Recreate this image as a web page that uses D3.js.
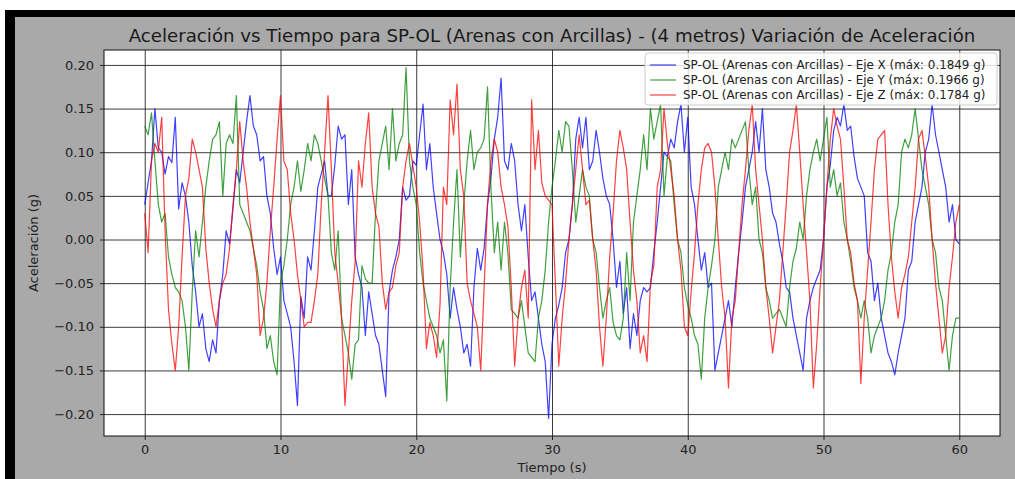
<!DOCTYPE html>
<html lang="es">
<head>
  <meta charset="UTF-8">
  <title>Aceleración vs Tiempo SP-OL</title>
  <script src="https://cdn.jsdelivr.net/npm/d3@7"></script>
  <style>
  body { margin: 0; background: #fff; }
  .axis text { font-family: 'DejaVu Sans', sans-serif; font-size: 13px; fill: #222; }
  .axis path { stroke: #111; }
  .axis line { stroke: #222; }
  .grid line { stroke: #1a1a1a; stroke-opacity: 0.85; }
  .grid path { display: none; }
  .titulo { font-family: 'DejaVu Sans', sans-serif; font-size: 18.2px; fill: #1a1a1a; }
  .etiqueta { font-family: 'DejaVu Sans', sans-serif; font-size: 13px; fill: #222; }
  .leyenda { font-family: 'DejaVu Sans', sans-serif; font-size: 11.9px; fill: #222; }
  </style>
</head>
<body>
<div id="grafico"></div>
<script>
// datos, muestreo cada 0.25 s
var paso = 0.25;

var ejeX = [
  0.040,0.065,0.090,0.150,0.105,0.100,0.075,0.095,0.088,0.140,0.035,0.065,0.050,0.020,-0.030,-0.060,-0.100,-0.085,-0.125,-0.140,
  -0.115,-0.130,-0.070,-0.040,0.010,-0.005,0.035,0.080,0.065,0.100,0.135,0.165,0.130,0.120,0.090,0.095,0.050,0.030,-0.010,-0.040,
  -0.020,-0.070,-0.085,-0.100,-0.140,-0.190,-0.065,-0.090,-0.020,-0.035,0.010,0.060,0.075,0.090,0.050,0.050,0.085,0.130,0.115,0.120,
  0.040,0.080,-0.020,-0.040,-0.055,-0.110,-0.060,-0.085,-0.110,-0.120,-0.150,-0.180,-0.060,-0.035,-0.020,0.000,0.060,0.045,0.050,0.090,
  0.085,0.120,0.155,0.080,0.110,0.060,0.030,0.000,-0.015,-0.040,-0.090,-0.055,-0.080,-0.100,-0.130,-0.120,-0.145,-0.055,-0.010,-0.035,
  -0.010,0.040,0.070,0.115,0.140,0.185,0.090,0.080,0.110,0.090,0.040,0.010,0.040,-0.020,-0.070,-0.060,-0.090,-0.120,-0.140,-0.205,
  -0.120,-0.090,-0.075,-0.055,-0.015,0.000,0.040,0.115,0.140,0.105,0.140,0.080,0.090,0.125,0.100,0.070,0.050,0.040,0.000,-0.055,
  -0.025,-0.085,-0.055,-0.125,-0.085,-0.110,-0.070,-0.055,-0.060,-0.055,-0.015,0.020,0.060,0.100,0.095,0.115,0.105,0.135,0.155,0.100,
  0.140,0.060,0.040,0.000,-0.035,-0.015,-0.055,-0.050,-0.150,-0.130,-0.110,-0.090,-0.070,-0.100,-0.055,-0.015,0.020,0.060,0.080,0.100,
  0.135,0.100,0.150,0.080,0.060,0.030,0.020,-0.005,-0.025,-0.055,-0.060,-0.090,-0.110,-0.130,-0.150,-0.090,-0.070,-0.055,-0.045,-0.035,
  0.000,0.060,0.085,0.125,0.140,0.130,0.155,0.125,0.130,0.095,0.070,0.060,0.050,-0.015,-0.025,-0.070,-0.050,-0.090,-0.110,-0.130,
  -0.140,-0.155,-0.130,-0.110,-0.090,-0.035,-0.025,0.020,0.040,0.060,0.100,0.115,0.155,0.120,0.100,0.080,0.060,0.020,0.040,0.000,
  -0.005
];

var ejeY = [
  0.130,0.120,0.145,0.090,0.040,0.020,0.030,-0.020,-0.040,-0.055,-0.060,-0.070,-0.100,-0.150,-0.060,0.010,-0.020,0.020,0.060,0.090,
  0.115,0.120,0.135,0.050,0.110,0.120,0.110,0.165,0.040,0.030,0.020,0.010,-0.010,-0.030,-0.060,-0.080,-0.125,-0.110,-0.140,-0.155,
  -0.050,-0.030,0.000,0.040,0.060,0.090,0.055,0.080,0.110,0.090,0.120,0.110,0.090,0.070,0.050,-0.015,-0.035,0.010,-0.090,-0.110,
  -0.130,-0.160,-0.120,-0.115,-0.030,-0.045,-0.050,-0.050,0.030,0.090,0.110,0.130,0.080,0.150,0.090,0.110,0.120,0.197,0.090,0.060,
  0.040,-0.015,-0.050,-0.070,-0.090,-0.100,-0.110,-0.130,-0.115,-0.185,-0.055,0.020,0.080,-0.020,0.040,0.090,0.125,0.080,0.100,0.105,
  0.115,0.175,0.060,-0.015,0.020,-0.035,0.020,-0.015,-0.080,-0.085,-0.090,-0.070,-0.100,-0.130,-0.135,-0.140,-0.090,-0.070,-0.035,0.020,
  0.060,0.090,0.125,0.100,0.135,0.130,0.080,0.020,0.050,0.080,0.060,0.050,0.000,-0.015,-0.055,-0.090,-0.070,-0.055,-0.095,-0.110,
  -0.115,-0.090,-0.015,-0.070,0.020,0.050,0.080,0.120,0.080,0.150,0.115,0.135,0.155,0.050,0.095,0.090,0.040,0.000,-0.015,-0.055,
  -0.075,-0.090,-0.110,-0.120,-0.160,-0.090,-0.055,-0.030,0.000,0.060,0.080,0.100,0.080,0.115,0.105,0.115,0.125,0.135,0.080,0.040,
  0.060,0.000,-0.015,-0.055,-0.070,-0.090,-0.085,-0.080,-0.090,-0.100,-0.055,-0.025,-0.010,0.020,0.000,0.050,0.080,0.100,0.115,0.090,
  0.115,0.140,0.060,0.080,0.050,0.065,0.020,0.000,-0.025,-0.055,-0.070,-0.090,-0.070,-0.090,-0.130,-0.110,-0.100,-0.090,-0.070,-0.035,
  -0.015,0.020,0.040,0.100,0.115,0.105,0.120,0.150,0.115,0.080,0.060,0.040,0.000,-0.015,-0.055,-0.070,-0.110,-0.150,-0.110,-0.090,
  -0.090
];

var ejeZ = [
  0.030,-0.015,0.090,0.110,0.100,0.140,0.010,-0.080,-0.120,-0.150,-0.100,-0.020,0.050,0.070,0.115,0.100,0.080,0.060,-0.010,-0.050,
  -0.080,-0.100,-0.070,-0.050,-0.040,-0.010,0.040,0.080,0.135,0.090,0.060,0.020,-0.010,-0.040,-0.110,-0.090,-0.050,0.010,0.060,0.115,
  0.165,0.090,0.080,0.030,0.000,-0.040,-0.070,-0.100,-0.095,-0.095,-0.070,-0.040,0.040,0.100,0.165,0.080,-0.015,-0.050,-0.090,-0.190,
  -0.130,-0.070,-0.025,0.090,0.060,0.110,0.145,0.060,0.030,0.015,-0.050,-0.080,-0.060,-0.055,-0.030,-0.015,0.060,0.090,0.110,0.085,
  0.060,0.020,-0.035,-0.125,-0.095,-0.110,-0.135,-0.075,0.060,0.040,0.160,0.120,0.178,0.080,0.050,-0.050,-0.070,-0.085,-0.100,-0.150,
  -0.055,0.040,0.090,0.115,0.100,0.060,0.040,0.015,-0.055,-0.145,-0.090,-0.055,-0.035,-0.090,0.160,0.080,0.125,0.065,0.050,0.045,
  0.040,-0.050,-0.145,-0.090,-0.050,0.000,0.040,0.080,0.120,0.080,0.040,0.045,0.000,-0.035,-0.100,-0.145,-0.090,-0.020,0.030,0.090,
  0.125,0.105,0.080,0.020,-0.035,-0.070,-0.130,-0.110,-0.140,-0.050,-0.030,0.060,0.080,0.150,0.110,0.080,0.050,0.000,-0.035,-0.100,
  -0.110,-0.060,-0.015,0.040,0.080,0.105,0.110,0.100,0.060,0.000,-0.055,-0.090,-0.170,-0.090,-0.070,-0.015,0.040,0.080,0.125,0.155,
  0.080,0.040,0.000,-0.055,-0.090,-0.130,-0.100,-0.070,-0.015,0.040,0.100,0.125,0.155,0.100,0.040,-0.015,-0.070,-0.170,-0.120,-0.055,
  0.000,0.060,0.115,0.150,0.130,0.115,0.060,0.000,-0.015,-0.050,-0.070,-0.165,-0.090,-0.035,0.020,0.080,0.115,0.120,0.125,0.040,
  -0.020,-0.060,-0.090,-0.055,-0.040,-0.020,0.020,0.060,0.115,0.125,0.095,0.060,0.000,-0.050,-0.090,-0.130,-0.110,-0.055,-0.020,0.020,
  0.040
];

var nombres = [
  "SP-OL (Arenas con Arcillas) - Eje X (máx: 0.1849 g)",
  "SP-OL (Arenas con Arcillas) - Eje Y (máx: 0.1966 g)",
  "SP-OL (Arenas con Arcillas) - Eje Z (máx: 0.1784 g)"
];
var colores = ["#0000ff", "#008000", "#ff0000"];
var ticksX = [0, 10, 20, 30, 40, 50, 60];
var ticksY = [-0.20, -0.15, -0.10, -0.05, 0.00, 0.05, 0.10, 0.15, 0.20];
var titulo = "Aceleración vs Tiempo para SP-OL (Arenas con Arcillas) - (4 metros) Variación de Aceleración";

var w = 1015, h = 479;
var izq = 104, der = 1000, arriba = 50, abajo = 436;

var tiempo = d3.range(ejeX.length).map(function(i){ return i * paso; });
var series = [ejeX, ejeY, ejeZ];

var svg = d3.select("#grafico").append("svg")
  .attr("width", w).attr("height", h);

// marco negro y fondo gris
svg.append("rect").attr("x", 5).attr("y", 10).attr("width", w - 5).attr("height", h - 10).attr("fill", "#000");
svg.append("rect").attr("x", 15).attr("y", 17).attr("width", w - 15).attr("height", h - 17).attr("fill", "#a9a9a9");

// escalas con 5% de margen como matplotlib
var xMin = d3.min(tiempo), xMax = d3.max(tiempo);
var xPad = (xMax - xMin) * 0.05;
var xScale = d3.scaleLinear().domain([xMin - xPad, xMax + xPad]).range([izq, der]);

var todos = ejeX.concat(ejeY, ejeZ);
var yMin = d3.min(todos), yMax = d3.max(todos);
var yPad = (yMax - yMin) * 0.05;
var yScale = d3.scaleLinear().domain([yMin - yPad, yMax + yPad]).range([abajo, arriba]);

svg.append("rect").attr("x", izq).attr("y", arriba)
  .attr("width", der - izq).attr("height", abajo - arriba).attr("fill", "#fff");

svg.append("clipPath").attr("id", "recorte").append("rect")
  .attr("x", izq).attr("y", arriba).attr("width", der - izq).attr("height", abajo - arriba);

// rejilla
svg.append("g").attr("class", "grid")
  .attr("transform", "translate(0," + abajo + ")")
  .call(d3.axisBottom(xScale).tickValues(ticksX).tickSize(-(abajo - arriba)).tickFormat(""));
svg.append("g").attr("class", "grid")
  .attr("transform", "translate(" + izq + ",0)")
  .call(d3.axisLeft(yScale).tickValues(ticksY).tickSize(-(der - izq)).tickFormat(""));

// lineas
var linea = d3.line()
  .x(function(d){ return xScale(d[0]); })
  .y(function(d){ return yScale(d[1]); });

var lineas = svg.append("g").attr("clip-path", "url(#recorte)");
series.forEach(function(s, k){
  lineas.append("path")
    .datum(s.map(function(v, i){ return [tiempo[i], v]; }))
    .attr("d", linea)
    .attr("fill", "none")
    .attr("stroke", colores[k])
    .attr("stroke-width", 1.2)
    .attr("stroke-opacity", 0.75)
    .attr("stroke-linejoin", "round");
});

// marco de los ejes
svg.append("rect").attr("x", izq).attr("y", arriba)
  .attr("width", der - izq).attr("height", abajo - arriba)
  .attr("fill", "none").attr("stroke", "#111").attr("stroke-width", 1);

// ejes
var ejeInf = svg.append("g").attr("class", "axis")
  .attr("transform", "translate(0," + abajo + ")")
  .call(d3.axisBottom(xScale).tickValues(ticksX).tickSize(4).tickPadding(5).tickFormat(d3.format("d")));
var ejeIzq = svg.append("g").attr("class", "axis")
  .attr("transform", "translate(" + izq + ",0)")
  .call(d3.axisLeft(yScale).tickValues(ticksY).tickSize(4).tickPadding(6).tickFormat(d3.format(".2f")));
ejeInf.select(".domain").remove();
ejeIzq.select(".domain").remove();

// textos
svg.append("text").attr("class", "titulo")
  .attr("x", (izq + der) / 2).attr("y", 42)
  .attr("text-anchor", "middle").text(titulo);

svg.append("text").attr("class", "etiqueta")
  .attr("x", (izq + der) / 2).attr("y", 472)
  .attr("text-anchor", "middle").text("Tiempo (s)");

svg.append("text").attr("class", "etiqueta")
  .attr("transform", "translate(38," + ((arriba + abajo) / 2) + ") rotate(-90)")
  .attr("text-anchor", "middle").text("Aceleración (g)");

// leyenda
var leyenda = svg.append("g").attr("transform", "translate(645,53)");
leyenda.append("rect")
  .attr("width", 352).attr("height", 52).attr("rx", 3)
  .attr("fill", "#fff").attr("fill-opacity", 0.8)
  .attr("stroke", "#ccc").attr("stroke-width", 1);
nombres.forEach(function(n, k){
  var fila = leyenda.append("g").attr("transform", "translate(0," + (12 + k * 15) + ")");
  fila.append("line").attr("x1", 5).attr("x2", 31).attr("y1", 0).attr("y2", 0)
    .attr("stroke", colores[k]).attr("stroke-width", 1.2).attr("stroke-opacity", 0.75);
  fila.append("text").attr("class", "leyenda").attr("x", 38).attr("y", 4).text(n);
});
</script>
</body>
</html>
